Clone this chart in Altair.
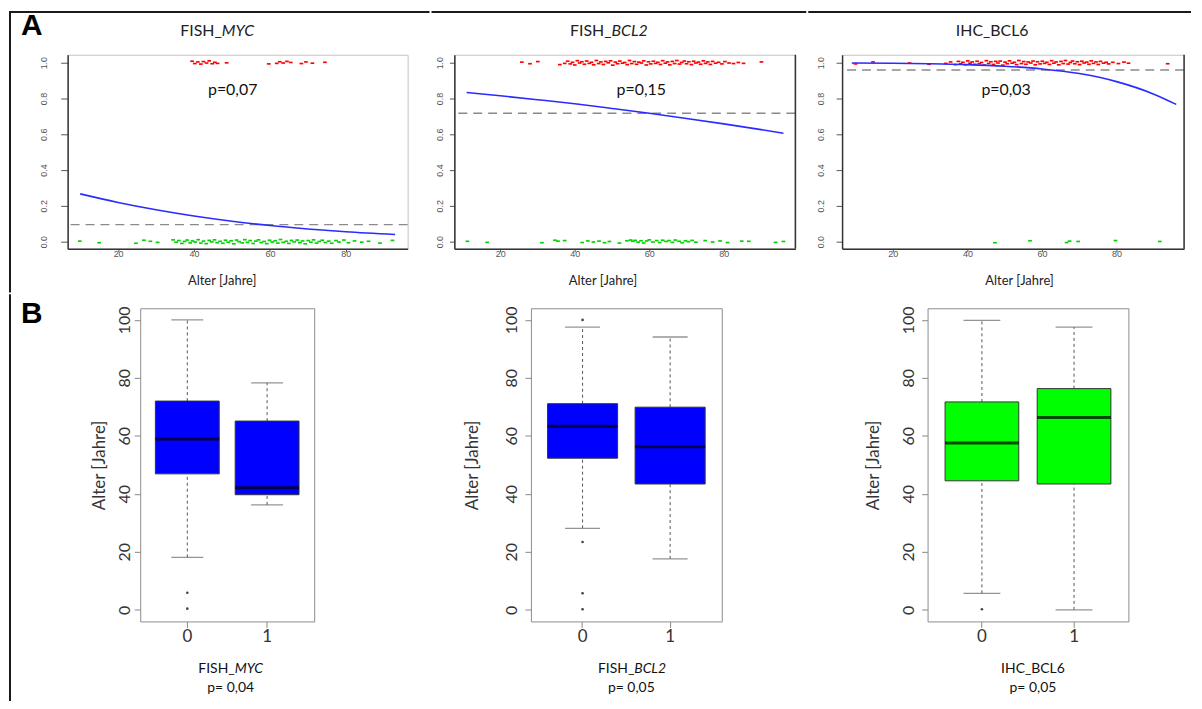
import altair as alt
import pandas as pd

FONT = "Lato"
AXFONT = "Liberation Sans"

# ---------------- Panel A data (age, jittered outcome) ----------------
myc_pos = [(39.5, 1.008), (40.2, 0.995), (41.0, 1.004), (41.8, 0.992), (42.5, 1.006), (43.3, 0.998),
           (44.0, 1.010), (44.8, 0.994), (45.5, 1.002), (46.2, 0.996), (48.6, 0.999), (59.7, 0.993),
           (61.8, 0.996), (62.6, 1.005), (63.5, 0.998), (64.5, 1.007), (65.5, 1.001), (68.3, 0.995),
           (69.5, 1.004), (71.2, 0.997), (74.5, 1.002)]
myc_neg = [(9.9, 0.003), (15.0, -0.006), (24.7, -0.009), (26.8, 0.008), (28.5, 0.002), (30.4, -0.004),
           (34.5, 0.010), (35.3, -0.003), (36.0, 0.006), (36.8, -0.010), (37.5, 0.001), (38.2, 0.009),
           (39.0, -0.007), (39.6, 0.004), (40.3, -0.002), (41.1, 0.011), (41.8, -0.008), (42.5, 0.003),
           (43.2, -0.011), (44.0, 0.007), (44.7, -0.001), (45.4, 0.010), (46.1, -0.006), (46.9, 0.002),
           (47.6, -0.009), (48.3, 0.008), (49.0, -0.003), (49.8, 0.005), (50.5, -0.012), (51.2, 0.009),
           (51.9, 0.000), (52.7, -0.007), (53.4, 0.011), (54.1, -0.004), (54.8, 0.006), (55.6, -0.010),
           (56.3, 0.003), (57.0, 0.010), (57.7, -0.005), (58.5, 0.001), (59.2, -0.011), (59.9, 0.008),
           (60.6, -0.002), (61.4, 0.005), (62.1, -0.008), (62.8, 0.012), (63.5, -0.004), (64.3, 0.002),
           (65.0, -0.010), (65.7, 0.007), (66.4, -0.001), (67.2, 0.009), (67.9, -0.006), (68.6, 0.004),
           (69.3, -0.012), (70.1, 0.006), (70.8, -0.003), (71.5, 0.010), (72.3, -0.008), (73.0, 0.001),
           (73.8, 0.008), (74.6, -0.005), (75.5, 0.003), (76.3, -0.009), (77.4, 0.006), (78.2, -0.002),
           (79.5, 0.009), (80.7, -0.006), (82.3, 0.004), (84.2, -0.003), (86.0, 0.002), (89.0, -0.008),
           (92.3, 0.007)]
myc_curve_age = [10, 20, 30, 40, 50, 60, 70, 80, 93]
myc_curve_p = [0.267, 0.219, 0.178, 0.143, 0.114, 0.090, 0.071, 0.055, 0.040]
myc_ref = 0.095

bcl2_pos = [(25.8, 1.003), (28.0, 0.994), (30.1, 1.006), (36.0, 0.989), (37.3, 0.996),
            (38.1, 1.008), (38.8, 0.993), (39.4, 1.002), (40.0, 0.987), (40.7, 1.011), (41.3, 0.998),
            (41.9, 1.005), (42.6, 0.991), (43.2, 1.009), (43.9, 0.996), (44.5, 1.002), (45.1, 0.988),
            (45.8, 1.012), (46.4, 0.995), (47.0, 1.004), (47.7, 0.990), (48.3, 1.007), (49.0, 0.999),
            (49.6, 1.010), (50.2, 0.986), (50.9, 1.003), (51.5, 0.994), (52.1, 1.009), (52.8, 0.997),
            (53.4, 1.001), (54.1, 0.989), (54.7, 1.012), (55.3, 0.995), (56.0, 1.006), (56.6, 0.991),
            (57.2, 1.003), (57.9, 0.998), (58.5, 1.010), (59.2, 0.987), (59.8, 1.005), (60.4, 0.993),
            (61.1, 1.008), (61.7, 0.996), (62.3, 1.002), (63.0, 0.990), (63.6, 1.011), (64.3, 0.997),
            (64.9, 1.004), (65.5, 0.988), (66.2, 1.007), (66.8, 0.995), (67.4, 1.012), (68.1, 0.992),
            (68.7, 1.001), (69.4, 1.009), (70.0, 0.994), (70.6, 1.005), (71.3, 0.989), (71.9, 1.008),
            (72.5, 0.998), (73.2, 1.003), (73.8, 0.991), (74.5, 1.010), (75.1, 0.996), (75.7, 1.004),
            (76.4, 0.990), (77.0, 1.007), (77.8, 0.997), (78.6, 1.002), (79.5, 0.993), (80.3, 1.006),
            (81.4, 0.998), (82.6, 0.995), (83.9, 1.001), (85.3, 0.996), (90.1, 1.004)]
bcl2_neg = [(11.2, 0.002), (16.5, -0.004), (31.2, -0.006), (34.7, 0.008), (35.5, 0.003), (37.3, 0.006),
            (42.0, -0.005), (43.5, 0.004), (45.0, -0.002), (46.5, 0.003), (48.0, -0.006), (49.3, 0.001),
            (52.0, -0.008), (54.0, 0.005), (55.0, 0.009), (55.6, 0.002), (56.2, 0.007), (57.0, -0.003),
            (57.8, 0.005), (58.5, -0.007), (59.3, 0.004), (60.0, 0.010), (61.0, -0.002), (62.0, 0.006),
            (62.8, -0.005), (63.6, 0.008), (64.5, 0.001), (65.3, 0.006), (66.2, -0.004), (67.0, 0.009),
            (68.0, 0.002), (68.8, -0.006), (69.7, 0.005), (70.5, 0.000), (71.5, 0.007), (72.5, -0.003),
            (75.0, 0.006), (77.0, -0.002), (79.0, 0.004), (81.0, -0.005), (84.8, 0.003), (86.7, 0.002),
            (93.9, -0.004), (96.0, 0.001)]
bcl2_curve_age = [11, 20, 30, 40, 50, 60, 70, 80, 90, 96]
bcl2_curve_p = [0.833, 0.815, 0.793, 0.770, 0.744, 0.717, 0.688, 0.658, 0.626, 0.606]
bcl2_ref = 0.717

bcl6_pos = [(10.0, 0.993), (14.7, 1.004), (24.5, 0.998), (29.7, 0.991), (34.2, 0.996), (35.5, 1.004),
            (36.8, 0.989), (37.6, 1.007), (38.2, 0.994), (38.8, 1.002), (39.5, 0.988), (40.1, 1.010),
            (40.7, 0.997), (41.3, 1.004), (42.0, 0.991), (42.6, 1.008), (43.2, 0.995), (43.8, 1.001),
            (44.5, 0.987), (45.1, 1.011), (45.7, 0.996), (46.3, 1.005), (47.0, 0.990), (47.6, 1.007),
            (48.2, 0.998), (48.8, 1.009), (49.5, 0.986), (50.1, 1.003), (50.7, 0.994), (51.3, 1.010),
            (52.0, 0.997), (52.6, 1.002), (53.2, 0.989), (53.8, 1.012), (54.5, 0.995), (55.1, 1.006),
            (55.7, 0.991), (56.3, 1.004), (57.0, 0.998), (57.6, 1.009), (58.2, 0.988), (58.8, 1.005),
            (59.5, 0.993), (60.1, 1.008), (60.7, 0.996), (61.3, 1.002), (62.0, 0.990), (62.6, 1.011),
            (63.2, 0.997), (63.8, 1.004), (64.5, 0.988), (65.1, 1.007), (65.7, 0.995), (66.3, 1.012),
            (67.0, 0.992), (67.6, 1.001), (68.2, 1.009), (68.8, 0.994), (69.5, 1.005), (70.1, 0.989),
            (70.7, 1.008), (71.3, 0.998), (72.0, 1.003), (72.6, 0.991), (73.2, 1.010), (73.8, 0.996),
            (74.5, 1.004), (75.1, 0.990), (75.7, 1.007), (76.5, 0.997), (77.2, 1.002), (77.9, 0.993),
            (79.0, 1.002), (80.5, 0.995), (82.0, 1.003), (83.2, 0.997), (93.7, 0.994)]
bcl6_neg = [(47.4, -0.006), (56.8, 0.005), (66.6, -0.005), (67.4, 0.003), (69.7, 0.001), (79.7, 0.006),
            (91.6, 0.001)]
bcl6_curve_age = [9, 20, 30, 40, 50, 60, 70, 80, 90, 96]
bcl6_curve_p = [0.998, 0.997, 0.994, 0.989, 0.980, 0.965, 0.939, 0.894, 0.824, 0.767]
bcl6_ref = 0.959

# ---------------- Panel B data (box plot statistics, age in years) ----------------
groups = ["0", "1"]
myc_box = {"lo": [18.1, 36.2], "q1": [46.9, 39.7], "med": [58.9, 42.1], "q3": [72.0, 65.1], "hi": [100.0, 78.3]}
myc_out_grp = ["0", "0"]
myc_out_val = [5.9, 0.4]
bcl2_box = {"lo": [28.1, 17.6], "q1": [52.3, 43.4], "med": [63.3, 56.2], "q3": [71.1, 69.9], "hi": [97.5, 94.1]}
bcl2_out_grp = ["0", "0", "0", "0"]
bcl2_out_val = [100.0, 23.4, 5.7, 0.2]
bcl6_box = {"lo": [5.7, 0.0], "q1": [44.5, 43.4], "med": [57.5, 66.3], "q3": [71.7, 76.3], "hi": [99.8, 97.5]}
bcl6_out_grp = ["0"]
bcl6_out_val = [0.2]

# ---------------- helpers ----------------
ONE = pd.DataFrame({"k": [0]})
DASH = "M-1,-0.45L1,-0.45L1,0.45L-1,0.45Z"


def frame_box(x1, x2, y1, y2):
    return alt.Chart(ONE).mark_rect(opacity=0).encode(
        x=alt.value(x1), x2=alt.value(x2), y=alt.value(y1), y2=alt.value(y2))


def band(x1, x2, y1, y2, color="#1a1a1a"):
    # filled strip used for the figure's outer border (no stroke, so exact bounds)
    return alt.Chart(ONE).mark_rect(fill=color, opacity=1).encode(
        x=alt.value(x1), x2=alt.value(x2), y=alt.value(y1), y2=alt.value(y2))


def line(x1, x2, y1, y2, color="#1a1a1a", w=2):
    return alt.Chart(ONE).mark_rule(color=color, strokeWidth=w).encode(
        x=alt.value(x1), x2=alt.value(x2), y=alt.value(y1), y2=alt.value(y2))


def label(text, x, y, size, align="center", style="normal", weight="normal",
          color="#222", font=FONT, baseline="middle"):
    return alt.Chart(ONE).mark_text(
        text=text, align=align, baseline=baseline, fontSize=size, fontStyle=style,
        fontWeight=weight, color=color, font=font).encode(x=alt.value(x), y=alt.value(y))


def top_panel(W, xdom, pos, neg, cage, cp, ref, box, extras, ytick, ypad, title_x, right_dark):
    H = 195
    xs = alt.Scale(domain=xdom, nice=False, zero=False)
    ys = alt.Scale(domain=[-0.039, 1.044], nice=False, zero=False)
    xax = alt.Axis(values=[20, 40, 60, 80], title="Alter [Jahre]", titleX=title_x, titlePadding=16,
                   titleFontSize=13, titleFont=FONT, titleFontWeight="normal", titleColor="#222",
                   labelFont=AXFONT, labelFontSize=9, labelColor="#555", tickSize=3, tickColor="#555",
                   labelPadding=-2, domainColor="#333", domainWidth=1.5, grid=False)
    yax = alt.Axis(values=[0, 0.2, 0.4, 0.6, 0.8, 1.0], format=".1f", title=None, labelAngle=-90,
                   labelFont=AXFONT, labelFontSize=9, labelColor="#555", tickSize=ytick,
                   tickColor="#555", labelPadding=ypad, domainColor="#333", domainWidth=1.5, grid=False)

    def enc(ch):
        return ch.encode(x=alt.X("age:Q", scale=xs, axis=xax), y=alt.Y("val:Q", scale=ys, axis=yax))

    layers = [frame_box(*box)]
    dash = alt.Chart(pd.DataFrame({"val": [ref]})).mark_rule(
        color="#8a8a8a", strokeWidth=1.4, strokeDash=[9, 6]).encode(y=alt.Y("val:Q", scale=ys, axis=yax))
    red = enc(alt.Chart(pd.DataFrame(pos, columns=["age", "val"])).mark_point(
        shape=DASH, filled=True, size=14, color="#ff0000", opacity=1))
    green = enc(alt.Chart(pd.DataFrame(neg, columns=["age", "val"])).mark_point(
        shape=DASH, filled=True, size=14, color="#00d400", opacity=1))
    curve = enc(alt.Chart(pd.DataFrame({"age": cage, "val": cp})).mark_line(
        color="#2b2bff", strokeWidth=1.6, interpolate="monotone"))
    layers += [dash, red, green, curve]
    if right_dark:
        layers.append(line(W, W, 0, H, color="#333", w=1.5))
    layers += extras
    return alt.layer(*layers).properties(
        width=W, height=H, view=alt.ViewBackground(stroke="#c4c4c4", strokeWidth=1))


def box_panel(W, stats, out_grp, out_val, color, ylabpad, ytitlepad, box, extras):
    H = 315
    step = W / 2.18
    xs = alt.Scale(domain=groups, paddingInner=0, paddingOuter=0.09)
    ys = alt.Scale(domain=[-4, 104], nice=False, zero=False)
    xax = alt.Axis(title=None, labelAngle=0, labelFont=FONT, labelFontSize=17, labelColor="#333",
                   tickSize=6, tickColor="#888", domain=False, labelPadding=1, grid=False)
    yax = alt.Axis(values=[0, 20, 40, 60, 80, 100], title="Alter [Jahre]", labelAngle=-90,
                   labelFont=FONT, labelFontSize=16, labelColor="#333", titleFont=FONT,
                   titleFontSize=17, titleFontWeight="normal", titleColor="#333",
                   titlePadding=ytitlepad, labelPadding=ylabpad, tickSize=6, tickColor="#888",
                   domain=False, grid=False)
    df = pd.DataFrame({"grp": groups, **stats})
    X = alt.X("grp:N", scale=xs, axis=xax)

    def Y(f):
        return alt.Y(f + ":Q", scale=ys, axis=yax)

    base = alt.Chart(df)
    wu = base.mark_rule(color="#555", strokeDash=[3, 3], strokeWidth=1).encode(x=X, y=Y("q3"), y2=alt.Y2("hi"))
    wl = base.mark_rule(color="#555", strokeDash=[3, 3], strokeWidth=1).encode(x=X, y=Y("lo"), y2=alt.Y2("q1"))
    caph = base.mark_tick(color="#666", thickness=1.3, size=0.4 * step).encode(x=X, y=Y("hi"))
    capl = base.mark_tick(color="#666", thickness=1.3, size=0.4 * step).encode(x=X, y=Y("lo"))
    bars = base.mark_bar(width={"band": 0.8}, fill=color, stroke="#333", strokeWidth=1).encode(
        x=X, y=Y("q1"), y2=alt.Y2("q3"))
    med = base.mark_tick(color="#000", thickness=3, size=0.8 * step).encode(x=X, y=Y("med"))
    outs = alt.Chart(pd.DataFrame({"grp": out_grp, "val": out_val})).mark_circle(
        size=7, color="#444", opacity=1).encode(x=X, y=Y("val"))
    layers = [frame_box(*box), wu, wl, caph, capl, bars, med, outs] + extras
    return alt.layer(*layers).properties(
        width=W, height=H, view=alt.ViewBackground(stroke="#8c8c8c", strokeWidth=1))


# ---------------- Row A ----------------
P1 = top_panel(
    342, [6.7, 96.3], myc_pos, myc_neg, myc_curve_age, myc_curve_p, myc_ref,
    (-59, 364, -44, 239),
    [band(-59, 364, -44, -42), band(-59, -57, -44, 239),
     label("A", -47, -20, 30, align="left", weight="bold", color="#000", font=AXFONT, baseline="alphabetic"),
     label("FISH_", 155, -24, 16, align="right"), label("MYC", 155, -24, 16, align="left", style="italic"),
     label("p=0,07", 166, 35, 16, color="#111")],
    7, 12, 155, False)
P2 = top_panel(
    343, [7.7, 99.2], bcl2_pos, bcl2_neg, bcl2_curve_age, bcl2_curve_p, bcl2_ref,
    (-23, 354, -44, 239),
    [band(-23, 354, -44, -42),
     label("FISH_", 158, -24, 16, align="right"), label("BCL2", 158, -24, 16, align="left", style="italic"),
     label("p=0,15", 188, 35, 16, color="#111")],
    5, 5, 149, True)
P3 = top_panel(
    344, [6.4, 98.1], bcl6_pos, bcl6_neg, bcl6_curve_age, bcl6_curve_p, bcl6_ref,
    (-34, 351, -44, 239),
    [band(-34, 351, -44, -42),
     label("IHC_BCL6", 151, -24, 16),
     label("p=0,03", 165, 35, 16, color="#111")],
    6, 11, 178, True)

# ---------------- Row B ----------------
S = alt.layer(
    frame_box(-59, 1, -14, 395),
    band(-59, -57, -14, 395),
    label("B", -47, 15, 30, align="left", weight="bold", color="#000", font=AXFONT, baseline="alphabetic"),
).properties(width=1, height=315, view=alt.ViewBackground(stroke="transparent"))

B1 = box_panel(175, myc_box, myc_out_grp, myc_out_val, "#0000ff", 2, 8, (-70, 282, -14, 395),
               [label("FISH_", 95, 363, 14, align="right", color="#111"),
                label("MYC", 95, 363, 14, align="left", style="italic", color="#111"),
                label("p= 0,04", 91, 382, 14, color="#111")])
B2 = box_panel(192, bcl2_box, bcl2_out_grp, bcl2_out_val, "#0000ff", 5, 23, (-109, 291, -14, 395),
               [label("FISH_", 104, 363, 14, align="right", color="#111"),
                label("BCL2", 104, 363, 14, align="left", style="italic", color="#111"),
                label("p= 0,05", 101, 382, 14, color="#111")])
B3 = box_panel(202, bcl6_box, bcl6_out_grp, bcl6_out_val, "#00ff00", 5, 18, (-106, 267, -14, 395),
               [label("IHC_BCL6", 106, 363, 14, color="#111"),
                label("p= 0,05", 106, 382, 14, color="#111")])

top = alt.hconcat(P1, P2, P3, spacing=0)
bottom = alt.hconcat(S, B1, B2, B3, spacing=0)
chart = alt.vconcat(top, bottom, spacing=0).properties(padding=0, background="white").configure(font=FONT)

chart.save("out.html", embed_options={"renderer": "svg", "actions": False})
